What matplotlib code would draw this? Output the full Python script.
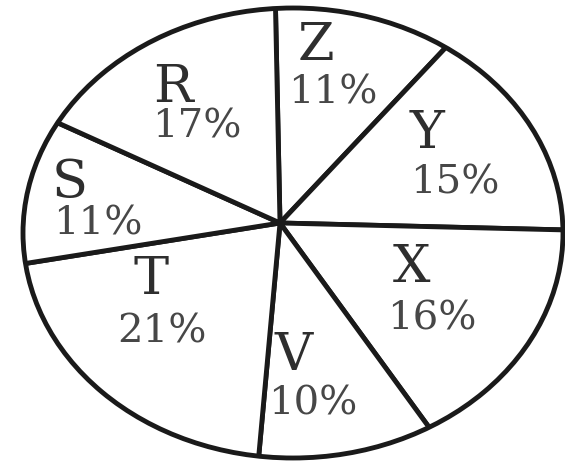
import matplotlib.pyplot as plt
from matplotlib.patches import Circle

# donnees du camembert (sens horaire a partir du haut)
lettres = ["Z", "Y", "X", "V", "T", "S", "R"]
pourcentages = [11, 15, 16, 10, 21, 11, 17]

# position des etiquettes (coordonnees pixel de l'image d'origine)
pos_lettre = [(298, 46), (410, 134), (393, 267), (275, 356), (133, 279), (52, 182), (153, 88)]
pos_pct = [(288, 93), (410, 183), (387, 319), (268, 404), (117, 332), (53, 224), (152, 127)]

# ellipse (centre, demi-axes) et point de convergence des rayons, en pixels
cx, cy, a, b = 293, 233, 270, 225
conv = (280, 223)
W, H = 565, 461


def px_vers_data(px, py):
    return (px - cx) / a, (cy - py) / b


fig = plt.figure(figsize=(5.65, 4.61), dpi=100)
ax = fig.add_axes([0, 0, 1, 1])

# les secteurs partent du point de convergence, puis sont coupes par l'ellipse
wedges, _ = ax.pie(pourcentages, startangle=91, counterclock=False,
                   center=px_vers_data(*conv), radius=1.3,
                   colors=["white"] * len(pourcentages),
                   wedgeprops=dict(edgecolor="#1a1a1a", linewidth=3.5))
bord = Circle((0, 0), 1, transform=ax.transData)
for w in wedges:
    w.set_clip_path(bord)
    w.set_clip_on(True)
ax.add_patch(Circle((0, 0), 1, fill=False, edgecolor="#1a1a1a", linewidth=3.5))

ax.set_aspect("auto")
x0, _ = px_vers_data(0, 0)
x1, _ = px_vers_data(W, 0)
_, y0 = px_vers_data(0, H)
_, y1 = px_vers_data(0, 0)
ax.set_xlim(x0, x1)
ax.set_ylim(y0, y1)
ax.axis("off")

for lettre, p, pl, pp in zip(lettres, pourcentages, pos_lettre, pos_pct):
    xl, yl = px_vers_data(*pl)
    xp, yp = px_vers_data(*pp)
    ax.text(xl, yl, lettre, ha="left", va="center", fontsize=38,
            family="DejaVu Serif", color="#2e2e2e")
    ax.text(xp, yp, f"{p}%", ha="left", va="center", fontsize=29,
            family="DejaVu Serif", color="#474747")

fig.savefig("out.png", dpi=100, facecolor="white")
